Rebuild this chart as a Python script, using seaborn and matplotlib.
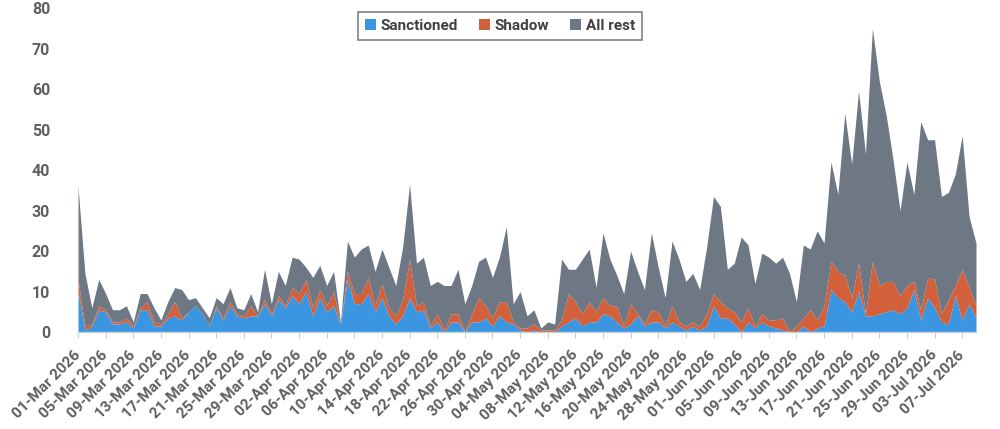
import numpy as np
import pandas as pd
import matplotlib
matplotlib.use("Agg")
import matplotlib.pyplot as plt
import seaborn as sns
from matplotlib.patches import Patch

# daily counts, 01-Mar-2026 .. 09-Jul-2026
start_date = "2026-03-01"

sanctioned = [
    10, 0.5, 1.5, 5.5, 5, 2, 2, 2.5, 1, 5.5,
    5.5, 1.5, 1.5, 3.5, 4, 3, 5, 6.5, 4.5, 1.5,
    6, 3, 6.5, 4, 3.5, 4, 4, 7, 4, 8,
    6, 9, 7, 10, 4, 8.5, 5, 6.5, 2, 13,
    7, 7, 9.5, 5, 8.5, 4, 2, 4, 8.5, 5,
    5.5, 1, 2.5, 0, 2.5, 2.5, 0, 2.5, 2.5, 3.5,
    1.5, 4, 2.5, 2, 0.5, 0, 0.5, 0, 0, 0,
    1.5, 2.5, 3.5, 1.5, 2.5, 2.5, 4.5, 4, 2.5, 1,
    2, 4, 1.5, 2.5, 2.5, 1, 2.5, 1.5, 0.5, 1.5,
    0.5, 1.5, 6.5, 3.5, 3.5, 2, 0, 2.5, 1, 2.5,
    1.5, 1, 0.5, 0, 0, 1.5, 0, 1, 1.5, 10.5,
    8.5, 7.5, 5, 10, 4, 4, 4.5, 5, 5.5, 4.5,
    6, 10.5, 3, 8.5, 6, 2.5, 2, 9, 3, 7,
    3.5,
]

shadow = [
    3, 1, 0.5, 1, 0.5, 0.5, 0.5, 1, 0.5, 0.5,
    2, 1, 0.5, 1, 3.5, 0.5, 0, 0, 0, 0,
    0.5, 0.5, 1, 0.5, 0.5, 2.5, 0, 1, 0.5, 1,
    0.5, 2, 2.5, 3, 2, 2, 1.5, 3.5, 0, 2,
    2.5, 2.5, 4, 1.5, 3.5, 2, 2, 4, 9.5, 1.5,
    2, 0.5, 2, 0.5, 2, 2, 0, 2, 6, 3,
    2, 3.5, 5, 0.5, 0.5, 1, 1.5, 0.5, 0.5, 0.5,
    1.5, 7, 4, 3, 5, 2.5, 4, 2.5, 4, 0.5,
    5, 0.5, 0.5, 3, 2.5, 0.5, 4, 1, 1, 1,
    1, 3, 3, 4, 2.5, 3, 2.5, 3.5, 0.5, 2,
    1.5, 2, 3, 0, 1.5, 2, 5.5, 2, 5, 7,
    6.5, 6.5, 3.5, 7, 0.5, 13.5, 7, 7.5, 7, 4.5,
    5.5, 2, 2.5, 5, 7, 2, 6, 2.5, 12.5, 4,
    3,
]

all_rest = [
    23, 13, 4, 6.5, 4, 3, 3, 3, 1, 3.5,
    2, 3.5, 1, 3, 3.5, 7, 3, 2, 1.5, 2,
    2, 3.5, 3.5, 1.5, 1.5, 3, 1, 7.5, 2.5, 6,
    5, 7.5, 8.5, 3, 7.5, 6, 5, 5, 0.5, 7.5,
    9, 11, 8, 8.5, 8.5, 10, 7.5, 13, 18.5, 10.5,
    11, 10, 8, 11, 7, 11, 7, 7, 9, 12,
    10, 11, 18.5, 4.5, 9, 3, 3.5, 0.5, 2, 1.5,
    15, 6, 8, 13.5, 13, 6, 16, 11.5, 7.5, 8,
    13, 10.5, 8.5, 19, 11, 7, 16, 15.5, 11, 12,
    9, 16.5, 24, 23.5, 9.5, 12, 21, 15.5, 10.5, 15,
    15.5, 14, 15, 14.5, 6, 18, 15, 22, 15.5, 24.5,
    19, 40, 33, 42.5, 39.5, 57.5, 50.5, 41, 30, 21,
    30.5, 21.5, 46.5, 34, 34.5, 29, 26.5, 27.5, 33, 17.5,
    15.5,
]

series_names = ["Sanctioned", "Shadow", "All rest"]
series_colors = ["#3a96e0", "#d2603a", "#6d7884"]

n_days = len(sanctioned)
dates = pd.date_range(start_date, periods=n_days, freq="D")

df = pd.DataFrame({
    "day": np.tile(np.arange(n_days), 3),
    "series": np.repeat(series_names, n_days),
    "value": np.concatenate([sanctioned, shadow, all_rest]),
})

sns.set_theme(style="white")
plt.rcParams["font.family"] = ["Roboto", "DejaVu Sans"]
txt_color = "#5f5f5f"

fig = plt.figure(figsize=(10, 4.29), dpi=100)
ax = fig.add_axes([0.078, 0.226, 0.898, 0.755])

# seaborn stacks the first hue level on top, so pass them reversed
sns.histplot(
    data=df, x="day", weights="value", hue="series",
    hue_order=series_names[::-1], palette=series_colors[::-1],
    multiple="stack", element="poly", discrete=True,
    alpha=1, linewidth=0, legend=False, ax=ax,
)

ax.set_xlim(0, n_days - 1)
ax.set_ylim(0, 80)
ax.set_yticks(np.arange(0, 81, 10))
ax.set_xlabel("")
ax.set_ylabel("")

tick_pos = np.arange(0, n_days, 4)
ax.set_xticks(tick_pos)
ax.set_xticklabels(dates[tick_pos].strftime("%d-%b %Y"), rotation=45,
                   ha="right", va="center", rotation_mode="anchor")

for lbl in ax.get_xticklabels() + ax.get_yticklabels():
    lbl.set_fontweight("bold")
    lbl.set_color(txt_color)
for lbl in ax.get_xticklabels():
    lbl.set_fontsize(11)
for lbl in ax.get_yticklabels():
    lbl.set_fontsize(11.5)

ax.tick_params(axis="x", bottom=True, length=4, width=0.8, color="#c8d0d8", pad=11)
ax.tick_params(axis="y", left=False, pad=14)

for side in ["top", "right", "left"]:
    ax.spines[side].set_visible(False)
ax.spines["bottom"].set_color("#c8d3dc")
ax.spines["bottom"].set_linewidth(1)
ax.grid(False)

handles = [Patch(facecolor=c, edgecolor="none") for c in series_colors]
leg = fig.legend(
    handles, series_names, loc="upper center", bbox_to_anchor=(0.5, 0.99),
    ncol=3, frameon=True, fancybox=False, edgecolor="#606060",
    prop={"weight": "bold", "size": 11}, handlelength=0.7, handleheight=0.7,
    handletextpad=0.3, columnspacing=1.4, borderpad=0.45,
)
leg.get_frame().set_linewidth(1.2)
for t in leg.get_texts():
    t.set_color("#404040")

fig.savefig("out.png", dpi=100)
